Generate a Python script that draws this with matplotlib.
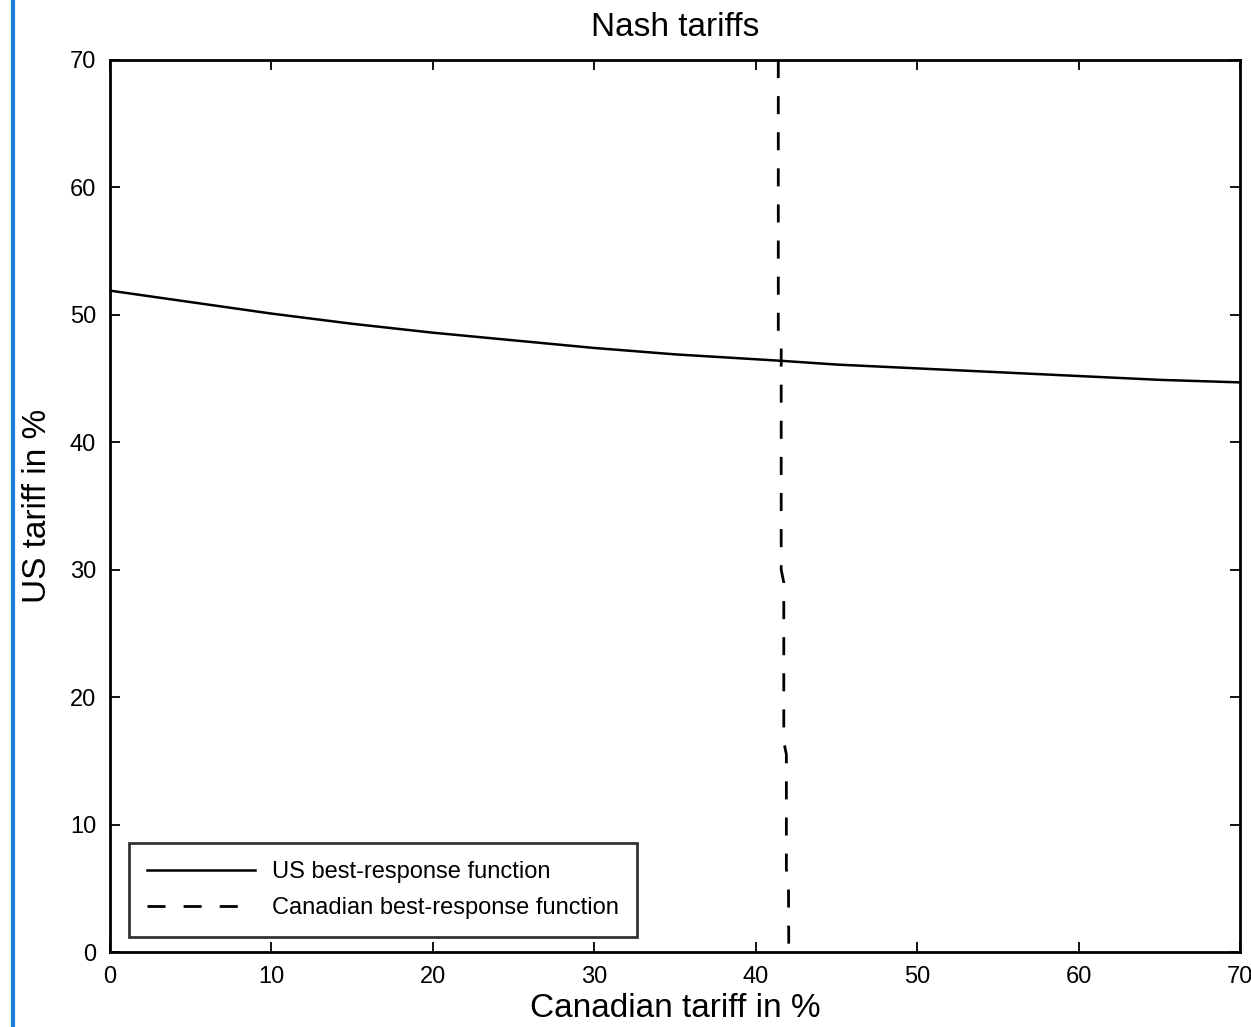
import matplotlib.pyplot as plt
from matplotlib.lines import Line2D

plt.rcParams['font.family'] = ['Liberation Sans', 'DejaVu Sans']

# US best-response: US tariff as a function of the Canadian tariff
us_x = [0, 5, 10, 15, 20, 25, 30, 35, 41.5, 45, 50, 55, 60, 65, 70]
us_y = [51.9, 51.0, 50.1, 49.3, 48.6, 48.0, 47.4, 46.9, 46.4, 46.1, 45.8, 45.5, 45.2, 44.9, 44.7]

# Canadian best-response: Canadian tariff as a function of the US tariff
ca_y = [70, 48.5, 47.5, 30.0, 29.0, 16.5, 15.5, 6.5, 5.5, 0]
ca_x = [41.40, 41.40, 41.58, 41.58, 41.74, 41.74, 41.90, 41.90, 42.03, 42.05]

fig = plt.figure(figsize=(12.51, 10.27), dpi=100)
ax = fig.add_axes([0.0879, 0.0730, 0.9033, 0.8686])

ax.plot(us_x, us_y, color='black', lw=1.8, label='US best-response function')
ax.plot(ca_x, ca_y, color='black', lw=2.0, dashes=(6.5, 6.5), label='Canadian best-response function')

ax.set_xlim(0, 70)
ax.set_ylim(0, 70)
ax.set_xticks(range(0, 71, 10))
ax.set_yticks(range(0, 71, 10))
ax.tick_params(direction='in', length=7, width=1.3, top=True, right=True, labelsize=17, pad=10)
for s in ax.spines.values():
    s.set_linewidth(2)

ax.set_title('Nash tariffs', fontsize=24, pad=17)
ax.set_xlabel("Canadian tariff in %", fontsize=24, labelpad=4)
ax.set_ylabel("US tariff in %", fontsize=24, labelpad=12)

leg = ax.legend(loc='lower left', fontsize=17, frameon=True, fancybox=False,
                edgecolor='black', handlelength=4.6, borderpad=0.75, labelspacing=0.6,
                handletextpad=0.7, borderaxespad=0, bbox_to_anchor=(0.017, 0.017))
leg.get_frame().set_linewidth(2)

# blue bar at the left edge of the page
fig.add_artist(Line2D([0.0105, 0.0105], [0, 1], transform=fig.transFigure,
                      color='#1a7fd4', lw=3))

fig.savefig('out.png', dpi=100)
